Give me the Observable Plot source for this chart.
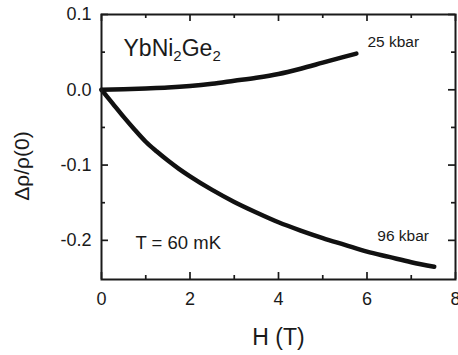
<!DOCTYPE html>
<html>
<head>
<meta charset="utf-8">
<script src="https://cdn.jsdelivr.net/npm/d3@7"></script>
<script src="https://cdn.jsdelivr.net/npm/@observablehq/plot@0.6"></script>
<style>
  html, body { margin: 0; padding: 0; background: #fff; }
  body { width: 458px; height: 355px; overflow: hidden; }
</style>
</head>
<body>
<div id="chart"></div>
<script>
// Field H (T) and relative magnetoresistance for each pressure
const h25 = [0, 0.5, 1, 1.5, 2, 2.5, 3, 3.5, 4, 4.5, 5, 5.5, 5.76];
const rho25 = [0, 0.0008, 0.0018, 0.003, 0.005, 0.008, 0.012, 0.016, 0.021, 0.028, 0.036, 0.044, 0.048];

const h96 = [0, 0.25, 0.5, 0.75, 1, 1.25, 1.5, 1.75, 2, 2.5, 3, 3.5, 4, 4.5, 5, 5.5, 6, 6.5, 7, 7.52];
const rho96 = [0, -0.018, -0.036, -0.053, -0.069, -0.082, -0.094, -0.105, -0.115, -0.133, -0.149, -0.163, -0.176, -0.187, -0.197, -0.206, -0.215, -0.222, -0.229, -0.235];

const seriesNames = ["25 kbar", "96 kbar"];
const xMajor = [0, 2, 4, 6, 8];
const xMinor = [1, 3, 5, 7];
const yMajor = [-0.2, -0.1, 0, 0.1];
const yMinor = [-0.15, -0.05, 0.05];
const sampleLabel = "YbNi2Ge2";
const tempLabel = "T = 60 mK";
const xTitle = "H (T)";
const yTitle = "Δρ/ρ(0)";

const s25 = h25.map((h, i) => ({H: h, v: rho25[i], s: seriesNames[0]}));
const s96 = h96.map((h, i) => ({H: h, v: rho96[i], s: seriesNames[1]}));
const all = s25.concat(s96);
const end25 = s25[s25.length - 1];
const end96 = s96[s96.length - 1];

const W = 458, Ht = 355;
const mL = 101, mR = 3, mT = 14, mB = 76;
const pW = W - mL - mR, pH = Ht - mT - mB;
const ink = "#1a1a1a";
const font = "'Liberation Sans', Arial, Helvetica, sans-serif";
const MAJ = 7, MIN = 4;
const tk = {stroke: ink, strokeWidth: 1.7};

const chart = Plot.plot({
  width: W, height: Ht,
  marginLeft: mL, marginRight: mR, marginTop: mT, marginBottom: mB,
  style: {fontFamily: font, color: ink, background: "#fff"},
  x: {domain: [0, 8]},
  y: {domain: [-0.252, 0.1]},
  marks: [
    Plot.axisX({ticks: xMajor, tickSize: 0, tickPadding: 13, fontSize: 18, label: null, tickFormat: d => String(d)}),
    Plot.axisY({ticks: yMajor, tickSize: 0, tickPadding: 10, fontSize: 18, label: null, tickFormat: d => d.toFixed(1)}),
    // inward ticks on all four sides
    Plot.tickX(xMajor, {x: d => d, insetTop: pH - MAJ, ...tk}),
    Plot.tickX(xMajor, {x: d => d, insetBottom: pH - MAJ, ...tk}),
    Plot.tickX(xMinor, {x: d => d, insetTop: pH - MIN, ...tk}),
    Plot.tickX(xMinor, {x: d => d, insetBottom: pH - MIN, ...tk}),
    Plot.tickY(yMajor, {y: d => d, insetRight: pW - MAJ, ...tk}),
    Plot.tickY(yMajor, {y: d => d, insetLeft: pW - MAJ, ...tk}),
    Plot.tickY(yMinor, {y: d => d, insetRight: pW - MIN, ...tk}),
    Plot.tickY(yMinor, {y: d => d, insetLeft: pW - MIN, ...tk}),
    Plot.line(all, {x: "H", y: "v", z: "s", stroke: "#111", strokeWidth: 4.5, curve: "monotone-x"}),
    Plot.frame({stroke: ink, strokeWidth: 2}),
    Plot.text([end25], {x: "H", y: "v", text: "s", textAnchor: "start", lineAnchor: "bottom", fontSize: 15.5, fill: ink, dx: 11, dy: -7}),
    Plot.text([end96], {x: "H", y: "v", text: "s", textAnchor: "start", lineAnchor: "bottom", fontSize: 15.5, fill: ink, dx: -57, dy: -26}),
    Plot.text([sampleLabel], {frameAnchor: "top-left", text: d => d, textAnchor: "start", lineAnchor: "bottom", fontSize: 23, fill: ink, dx: 22, dy: 41}),
    Plot.text([tempLabel], {frameAnchor: "bottom-left", text: d => d, textAnchor: "start", lineAnchor: "bottom", fontSize: 18.5, fill: ink, dx: 34, dy: -31}),
    Plot.text([xTitle], {frameAnchor: "bottom", text: d => d, textAnchor: "middle", lineAnchor: "bottom", fontSize: 23, fill: ink, dy: 65}),
    Plot.text([yTitle], {frameAnchor: "left", text: d => d, textAnchor: "middle", lineAnchor: "middle", fontSize: 21, fill: ink, dx: -79, dy: 19, rotate: -90})
  ]
});

// subscripts for the compound name
d3.select(chart).selectAll("text").each(function() {
  if (this.textContent === sampleLabel) {
    const t = d3.select(this);
    t.text(null);
    const parts = [["YbNi", false], ["2", true], ["Ge", false], ["2", true]];
    parts.forEach(([s, sub]) => {
      const sp = t.append("tspan").text(s);
      if (sub) sp.attr("font-size", "15").attr("baseline-shift", "-35%");
    });
  }
});

document.getElementById("chart").appendChild(chart);
</script>
</body>
</html>
